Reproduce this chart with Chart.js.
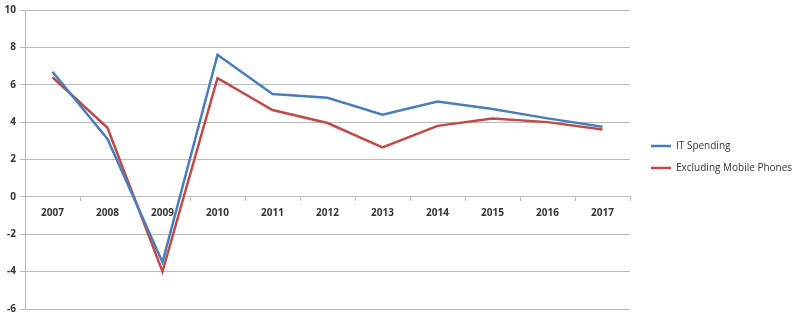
<!DOCTYPE html>
<html>
<head>
<meta charset="utf-8">
<script src="https://cdn.jsdelivr.net/npm/chart.js@4/dist/chart.umd.min.js"></script>
<style>
  html, body { margin: 0; padding: 0; background: #fff; }
  .chart-container { width: 801px; height: 321px; position: relative; }
</style>
</head>
<body>
<div class="chart-container"><canvas id="itChart"></canvas></div>
<script>
const years = ["2007", "2008", "2009", "2010", "2011", "2012", "2013", "2014", "2015", "2016", "2017"];
const itSpending = [6.7, 3.1, -3.5, 7.6, 5.5, 5.3, 4.4, 5.1, 4.7, 4.2, 3.75];
const exclMobile = [6.4, 3.7, -4.0, 6.35, 4.65, 3.95, 2.65, 3.8, 4.2, 4.0, 3.6];
const yTicks = [10, 8, 6, 4, 2, 0, -2, -4, -6];

const fontFamily = "'Open Sans', 'Liberation Sans', sans-serif";
const gridColor = "#b9b9b9";

const ctx = document.getElementById("itChart").getContext("2d");

window.itChart = new Chart(ctx, {
    type: "line",
    data: {
        labels: years,
        datasets: [
            {
                label: "IT Spending",
                data: itSpending,
                borderColor: "#4a7ebb",
                backgroundColor: "#4a7ebb",
                borderWidth: 2.5,
            },
            {
                label: "Excluding Mobile Phones",
                data: exclMobile,
                borderColor: "#be4b48",
                backgroundColor: "#be4b48",
                borderWidth: 2.5,
            },
        ],
    },
    options: {
        responsive: true,
        maintainAspectRatio: false,
        animation: false,
        layout: {
            padding: { top: 5, bottom: 12, left: 0, right: 0 },
        },
        elements: {
            line: { tension: 0 },
            point: { radius: 0 },
        },
        scales: {
            x: {
                position: { y: 0 },
                offset: true,
                grid: {
                    offset: true,
                    drawOnChartArea: false,
                    drawTicks: true,
                    tickLength: 4,
                    color: gridColor,
                },
                border: { color: gridColor, width: 1 },
                ticks: {
                    color: "#333",
                    font: { family: fontFamily, size: 10, weight: "bold" },
                    maxRotation: 0,
                    padding: 6,
                },
            },
            y: {
                min: -6,
                max: 10,
                afterFit: (scale) => { scale.width = 25; },
                afterBuildTicks: (scale) => {
                    scale.ticks = yTicks.map((v) => ({ value: v }));
                },
                grid: {
                    color: gridColor,
                    tickLength: 5,
                },
                border: { color: gridColor },
                ticks: {
                    color: "#333",
                    font: { family: fontFamily, size: 10, weight: "bold" },
                    padding: 4,
                },
            },
            // empty spacer between plot and legend
            gap: {
                position: "right",
                min: 0,
                max: 1,
                afterFit: (scale) => { scale.width = 9; },
                grid: { display: false },
                border: { display: false },
                ticks: { display: false },
            },
        },
        plugins: {
            legend: {
                position: "right",
                maxWidth: 162,
                labels: {
                    boxWidth: 20,
                    boxHeight: 0,
                    padding: 12,
                    color: "#333",
                    font: { family: fontFamily, size: 10 },
                },
            },
            tooltip: { enabled: false },
        },
    },
});
</script>
</body>
</html>
